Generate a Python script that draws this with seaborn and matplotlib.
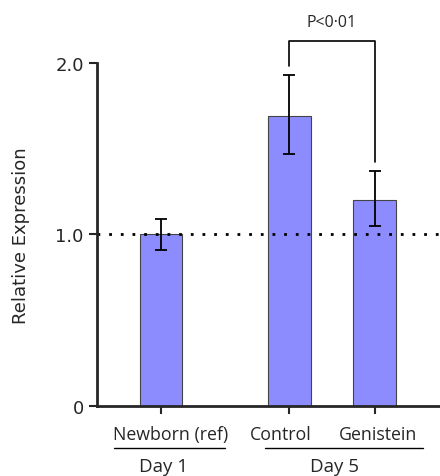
import numpy as np
import pandas as pd
import seaborn as sns
import matplotlib.pyplot as plt
import matplotlib.transforms as mtransforms

groups = ["Newborn (ref)", "Control", "Genistein"]
days = ["Day 1", "Day 5"]
expression = [1.0, 1.69, 1.20]
err_low = [0.91, 1.47, 1.05]
err_high = [1.09, 1.93, 1.37]
p_text = "P<0\u00b701"

# layout only: where each bar sits on the x axis
xpos = [0, 3, 5]

df = pd.DataFrame({"x": xpos, "group": groups, "expression": expression})

sns.set_style("ticks")
plt.rcParams["font.family"] = ["DejaVu Sans"]

fig = plt.figure(figsize=(4.4, 4.77), dpi=100)
ax = fig.add_axes([0.2205, 0.1468, 0.7795, 0.7191])

sns.barplot(data=df, x="x", y="expression", native_scale=True, width=0.5,
            color="#8c8cff", saturation=1, edgecolor="#444444", linewidth=0.8,
            errorbar=None, ax=ax)

yerr = np.array([np.array(expression) - np.array(err_low),
                 np.array(err_high) - np.array(expression)])
ax.errorbar(xpos, expression, yerr=yerr, fmt="none", ecolor="black",
            elinewidth=1.3, capsize=4.5, capthick=1.3, zorder=5)

ax.axhline(1.0, color="black", linestyle=(0, (1, 3.2)), linewidth=2, zorder=1)

ax.set_xlim(-1.5, 6.53)
ax.set_ylim(0, 2.0)
ax.set_yticks([0, 1.0, 2.0])
ax.set_yticklabels(["0", "1.0", "2.0"], fontsize=13)
ax.set_xticks(xpos)
ax.set_xticklabels([])
ax.tick_params(axis="both", width=1.5, length=6, direction="out")
ax.spines["left"].set_linewidth(2)
ax.spines["bottom"].set_linewidth(2)
sns.despine(ax=ax)
ax.set_xlabel("")
ax.set_ylabel("Relative Expression", fontsize=13, labelpad=18)

# significance bracket
top = 2.128
ax.plot([xpos[1], xpos[1], xpos[2], xpos[2]],
        [err_high[1] + 0.05, top, top, err_high[2] + 0.05],
        color="black", linewidth=1.2, clip_on=False)
ax.text((xpos[1] + xpos[2]) / 2, top + 0.065, p_text, ha="center", va="bottom",
        fontsize=11.5, family=["Open Sans"])

# group labels under the axis
trans = mtransforms.blended_transform_factory(ax.transData, ax.transAxes)
label_x = [0.23, 2.79, 5.08]
for lx, g in zip(label_x, groups):
    ax.text(lx, -0.082, g, transform=trans, ha="center", va="center",
            fontsize=12.8, family=["Open Sans"])

ax.plot([-1.1, 1.5], [-0.122, -0.122], transform=trans, color="black",
        linewidth=1, clip_on=False)
ax.plot([2.43, 6.13], [-0.122, -0.122], transform=trans, color="black",
        linewidth=1, clip_on=False)
ax.text(0.05, -0.176, days[0], transform=trans, ha="center", va="center",
        fontsize=13.5, family=["Open Sans"])
ax.text(4.05, -0.176, days[1], transform=trans, ha="center", va="center",
        fontsize=13.5, family=["Open Sans"])

fig.savefig("out.png", dpi=100)
